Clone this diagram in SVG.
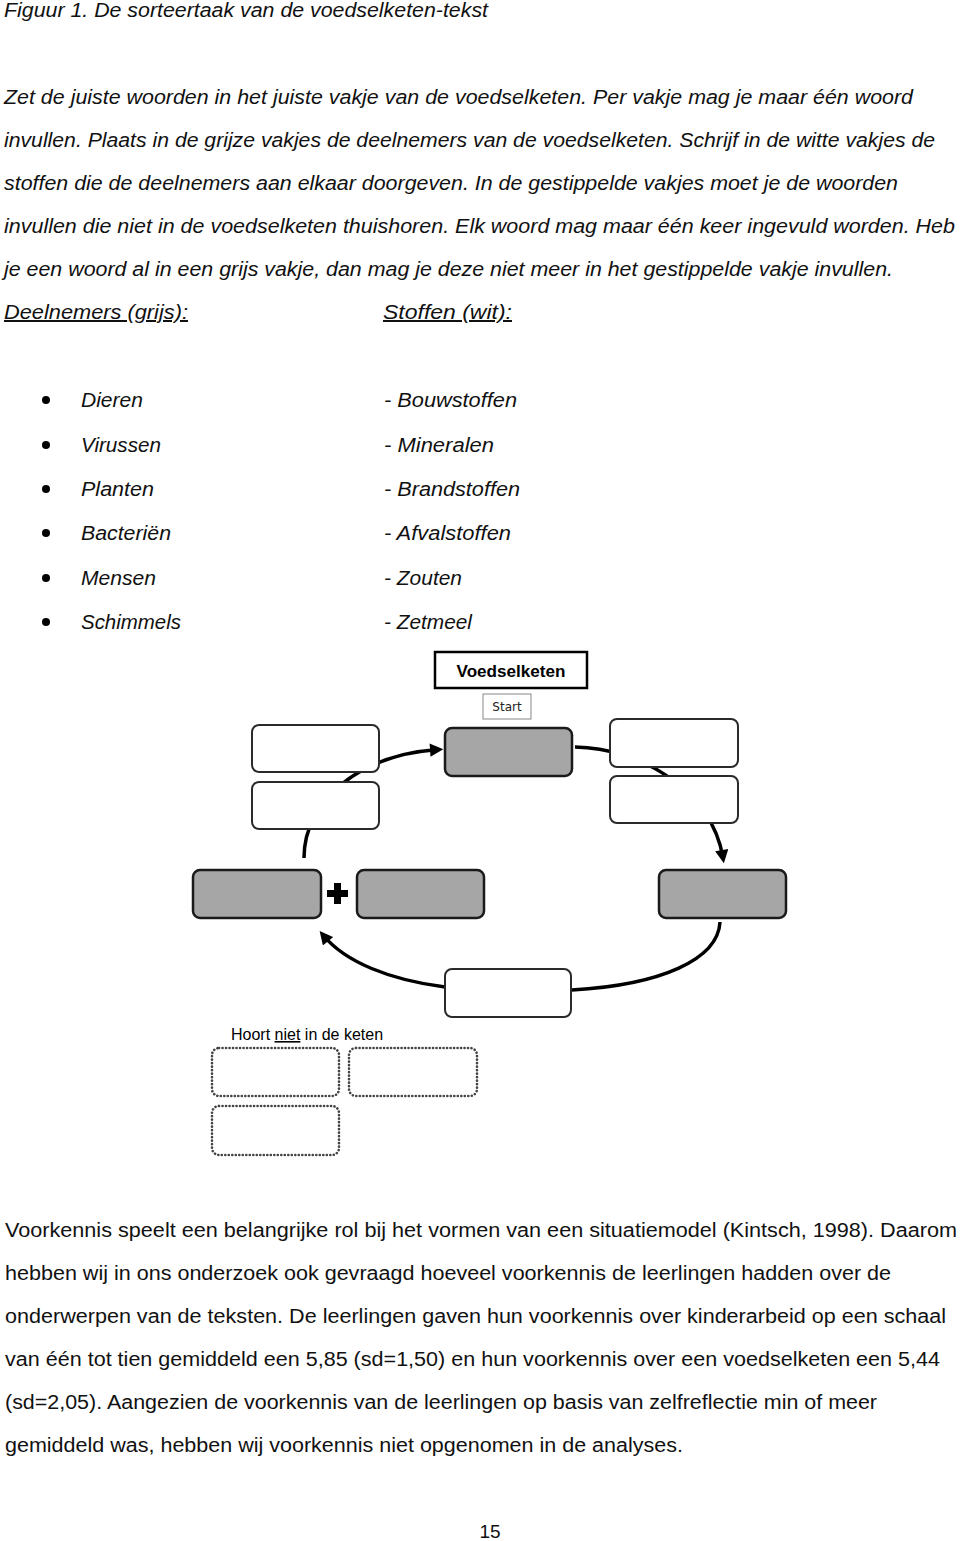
<svg xmlns="http://www.w3.org/2000/svg" width="960" height="1541" viewBox="0 0 960 1541">
<style>
  .it{font-family:"Liberation Sans",Arial,sans-serif;font-style:italic;font-size:20px;fill:#111}
  .rg{font-family:"Liberation Sans",Arial,sans-serif;font-size:20px;fill:#111}
  .gray{fill:#a6a6a6;stroke:#1a1a1a;stroke-width:2.5}
  .white{fill:#fff;stroke:#2a2a2a;stroke-width:2}
  .dot{fill:#fff;stroke:#444;stroke-width:2.6;stroke-dasharray:0.1 3.4;stroke-linecap:round}
  .conn{fill:none;stroke:#000;stroke-width:3.5}
</style>
<defs>
  <marker id="ah" viewBox="0 0 10 10" refX="6" refY="5" markerWidth="4" markerHeight="3.8" orient="auto" markerUnits="strokeWidth">
    <path d="M0,0 L10,5 L0,10 z" fill="#000"/>
  </marker>
</defs>
<rect width="960" height="1541" fill="#fff"/>

<!-- Text -->
<text class="it" x="4" y="17" textLength="484" lengthAdjust="spacingAndGlyphs">Figuur 1. De sorteertaak van de voedselketen-tekst</text>
<text class="it" x="4" y="104" textLength="909" lengthAdjust="spacingAndGlyphs">Zet de juiste woorden in het juiste vakje van de voedselketen. Per vakje mag je maar één woord</text>
<text class="it" x="4" y="147" textLength="931" lengthAdjust="spacingAndGlyphs">invullen. Plaats in de grijze vakjes de deelnemers van de voedselketen. Schrijf in de witte vakjes de</text>
<text class="it" x="4" y="190" textLength="894" lengthAdjust="spacingAndGlyphs">stoffen die de deelnemers aan elkaar doorgeven. In de gestippelde vakjes moet je de woorden</text>
<text class="it" x="4" y="233" textLength="951" lengthAdjust="spacingAndGlyphs">invullen die niet in de voedselketen thuishoren. Elk woord mag maar één keer ingevuld worden. Heb</text>
<text class="it" x="4" y="276" textLength="889" lengthAdjust="spacingAndGlyphs">je een woord al in een grijs vakje, dan mag je deze niet meer in het gestippelde vakje invullen.</text>
<text class="it" x="4" y="319" textLength="184" lengthAdjust="spacingAndGlyphs" text-decoration="underline">Deelnemers (grijs):</text>
<text class="it" x="383" y="319" textLength="129" lengthAdjust="spacingAndGlyphs" text-decoration="underline">Stoffen (wit):</text>

<g id="bullets" fill="#000">
  <circle cx="46" cy="400" r="4"/>
  <circle cx="46" cy="445" r="4"/>
  <circle cx="46" cy="489" r="4"/>
  <circle cx="46" cy="533" r="4"/>
  <circle cx="46" cy="578" r="4"/>
  <circle cx="46" cy="622" r="4"/>
</g>
<text class="it" x="81" y="407" textLength="62" lengthAdjust="spacingAndGlyphs">Dieren</text>
<text class="it" x="81" y="452" textLength="80" lengthAdjust="spacingAndGlyphs">Virussen</text>
<text class="it" x="81" y="496" textLength="73" lengthAdjust="spacingAndGlyphs">Planten</text>
<text class="it" x="81" y="540" textLength="90" lengthAdjust="spacingAndGlyphs">Bacteriën</text>
<text class="it" x="81" y="585" textLength="75" lengthAdjust="spacingAndGlyphs">Mensen</text>
<text class="it" x="81" y="629" textLength="100" lengthAdjust="spacingAndGlyphs">Schimmels</text>

<text class="it" x="384" y="407" textLength="133" lengthAdjust="spacingAndGlyphs">- Bouwstoffen</text>
<text class="it" x="384" y="452" textLength="110" lengthAdjust="spacingAndGlyphs">- Mineralen</text>
<text class="it" x="384" y="496" textLength="136" lengthAdjust="spacingAndGlyphs">- Brandstoffen</text>
<text class="it" x="384" y="540" textLength="127" lengthAdjust="spacingAndGlyphs">- Afvalstoffen</text>
<text class="it" x="384" y="585" textLength="78" lengthAdjust="spacingAndGlyphs">- Zouten</text>
<text class="it" x="384" y="629" textLength="88" lengthAdjust="spacingAndGlyphs">- Zetmeel</text>

<!-- Connectors -->
<g id="connectors">
  <path class="conn" d="M304 858 C304 800 360 755 438 749.5" marker-end="url(#ah)"/>
  <path class="conn" d="M575 747 C640 748 712 790 723 858" marker-end="url(#ah)"/>
  <path class="conn" d="M720 922 C718 960 660 985 572 990"/>
  <path class="conn" d="M445 987 C390 980 345 962 323 935" marker-end="url(#ah)"/>
</g>

<!-- Nodes -->
<g id="title-box">
  <rect x="435" y="652" width="152" height="36" fill="#fff" stroke="#000" stroke-width="2.5"/>
  <text x="511" y="677" text-anchor="middle" font-family="Liberation Sans, Arial, sans-serif" font-weight="bold" font-size="17" textLength="109" lengthAdjust="spacingAndGlyphs" fill="#000">Voedselketen</text>
</g>
<g id="start-box">
  <rect x="483" y="694" width="48" height="25" fill="#fff" stroke="#888" stroke-width="1"/>
  <text x="507" y="711" text-anchor="middle" font-family="DejaVu Sans, sans-serif" font-size="12" fill="#222">Start</text>
</g>
<g id="top-gray"><rect class="gray" x="445" y="728" width="127" height="48" rx="7"/></g>
<g id="tl-white-1"><rect class="white" x="252" y="725" width="127" height="47" rx="7"/></g>
<g id="tl-white-2"><rect class="white" x="252" y="782" width="127" height="47" rx="7"/></g>
<g id="tr-white-1"><rect class="white" x="610" y="719" width="128" height="48" rx="7"/></g>
<g id="tr-white-2"><rect class="white" x="610" y="776" width="128" height="47" rx="7"/></g>
<g id="left-gray"><rect class="gray" x="193" y="870" width="128" height="48" rx="7"/></g>
<g id="plus"><path d="M334 883 h7 v7 h7 v7 h-7 v7 h-7 v-7 h-7 v-7 h7 z" fill="#000"/></g>
<g id="mid-gray"><rect class="gray" x="357" y="870" width="127" height="48" rx="7"/></g>
<g id="right-gray"><rect class="gray" x="659" y="870" width="127" height="48" rx="7"/></g>
<g id="bottom-white"><rect class="white" x="445" y="969" width="126" height="48" rx="7"/></g>

<g id="not-in-chain">
  <text x="231" y="1040" font-family="Liberation Sans, Arial, sans-serif" font-size="16" fill="#000">Hoort <tspan text-decoration="underline">niet</tspan> in de keten</text>
</g>
<g id="dotted-1"><rect class="dot" x="212" y="1048" width="127" height="48" rx="7"/></g>
<g id="dotted-2"><rect class="dot" x="349" y="1048" width="128" height="48" rx="7"/></g>
<g id="dotted-3"><rect class="dot" x="212" y="1106" width="127" height="49" rx="7"/></g>

<text class="rg" x="5" y="1237" textLength="952" lengthAdjust="spacingAndGlyphs">Voorkennis speelt een belangrijke rol bij het vormen van een situatiemodel (Kintsch, 1998). Daarom</text>
<text class="rg" x="5" y="1280" textLength="886" lengthAdjust="spacingAndGlyphs">hebben wij in ons onderzoek ook gevraagd hoeveel voorkennis de leerlingen hadden over de</text>
<text class="rg" x="5" y="1323" textLength="941" lengthAdjust="spacingAndGlyphs">onderwerpen van de teksten. De leerlingen gaven hun voorkennis over kinderarbeid op een schaal</text>
<text class="rg" x="5" y="1366" textLength="935" lengthAdjust="spacingAndGlyphs">van één tot tien gemiddeld een 5,85 (sd=1,50) en hun voorkennis over een voedselketen een 5,44</text>
<text class="rg" x="5" y="1409" textLength="872" lengthAdjust="spacingAndGlyphs">(sd=2,05). Aangezien de voorkennis van de leerlingen op basis van zelfreflectie min of meer</text>
<text class="rg" x="5" y="1452" textLength="678" lengthAdjust="spacingAndGlyphs">gemiddeld was, hebben wij voorkennis niet opgenomen in de analyses.</text>

<text x="490" y="1538" text-anchor="middle" font-family="Liberation Sans, Arial, sans-serif" font-size="19" fill="#111">15</text>
</svg>
